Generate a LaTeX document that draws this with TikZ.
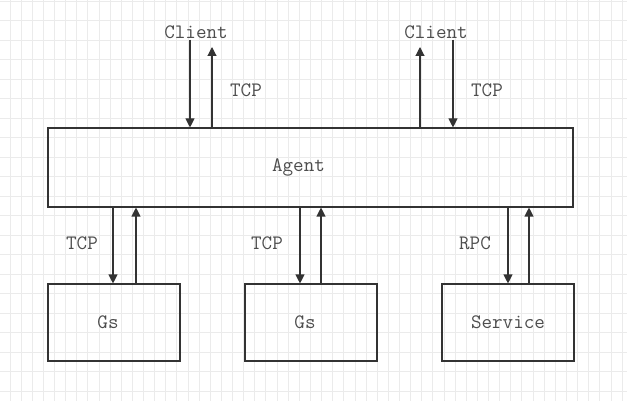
\documentclass[tikz,border=0pt]{standalone}
\usetikzlibrary{arrows.meta}
\definecolor{linegray}{HTML}{333333}
\definecolor{textgray}{HTML}{4D4D4D}
\definecolor{gridgray}{HTML}{EBEBEB}
\tikzset{
    box/.style = {draw = linegray, line width = 1.1pt, minimum width = 132pt, minimum height = 77pt, inner sep = 0pt},
    lbl/.style = {text = textgray, font = \ttfamily\fontsize{20.5}{24}\selectfont, inner sep = 1pt},
    arr/.style = {-{Triangle[width = 9pt, length = 9pt]}, draw = linegray, line width = 1.1pt}
}
\begin{document}
    \begin{tikzpicture}[x = 1pt, y = -1pt]
        \useasboundingbox (0,0) rectangle (627,401);
        \begin{scope}[draw = gridgray, line width = 1pt]
            \foreach \i in {0,...,55} \draw (10+11.13*\i,0) -- (10+11.13*\i,401);
            \foreach \j in {0,...,20} \draw (0,1.2+19.5*\j) -- (627,1.2+19.5*\j);
        \end{scope}
        \node[box, minimum width = 525pt, minimum height = 79pt, label = {[lbl, xshift = -12pt]center:Agent}] (agent) at (310.5,167.5) {};
        \node[box, label = {[lbl, xshift = -6pt]center:Gs}] (gs1) at (114,322.5) {};
        \node[box, label = {[lbl, xshift = -6pt]center:Gs}] (gs2) at (311,322.5) {};
        \node[box, label = {[lbl]center:Service}] (service) at (508,322.5) {};
        \node[lbl] (client1) at (196,32) {Client};
        \node[lbl] (client2) at (436,32) {Client};
        \coordinate (up1) at (212,47);
        \coordinate (up2) at (420,47);
        \draw[arr] (client1.south -| 190,0) -- (agent.north -| 190,0);
        \draw[arr] (agent.north -| up1) -- (up1);
        \draw[arr] (agent.north -| up2) -- (up2);
        \draw[arr] (client2.south -| 453,0) -- (agent.north -| 453,0);
        \draw[arr] (agent.south -| 113,0) -- (gs1.north -| 113,0);
        \draw[arr] (gs1.north -| 136,0) -- (agent.south -| 136,0);
        \draw[arr] (agent.south -| 300,0) -- (gs2.north -| 300,0);
        \draw[arr] (gs2.north -| 321,0) -- (agent.south -| 321,0);
        \draw[arr] (agent.south -| 508,0) -- (service.north -| 508,0);
        \draw[arr] (service.north -| 529,0) -- (agent.south -| 529,0);
        \begin{scope}[every node/.append style = {lbl}]
            \node (tcp1) at (246,90) {TCP};
            \node (tcp2) at (487,90) {TCP};
            \node (tcp3) at (82,243.5) {TCP};
            \node (tcp4) at (267,243.5) {TCP};
            \node (rpc) at (475,243.5) {RPC};
        \end{scope}
    \end{tikzpicture}
\end{document}
